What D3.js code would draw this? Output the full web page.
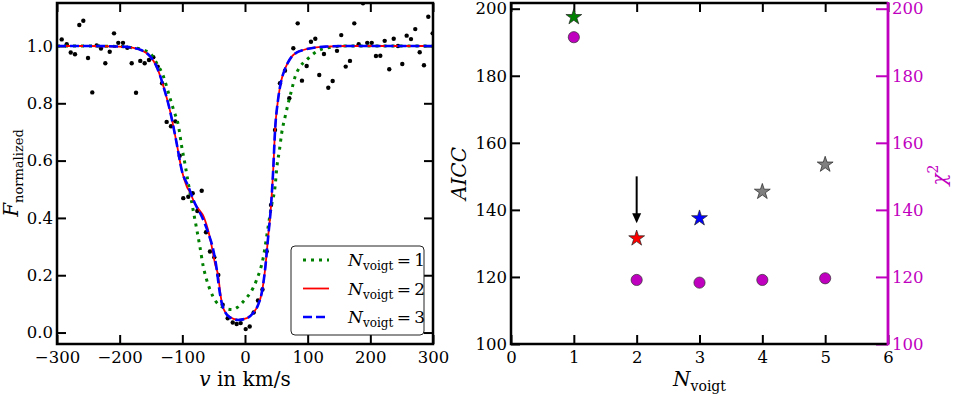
<!DOCTYPE html>
<html>
<head>
<meta charset="utf-8">
<script src="https://cdn.jsdelivr.net/npm/d3@7"></script>
<style>
  html, body { margin: 0; padding: 0; background: #fff; }
  svg { display: block; font-family: "DejaVu Serif", serif; }
  svg text { font-family: "DejaVu Serif", serif; }
</style>
</head>
<body>
<svg id="fig" width="954" height="395"></svg>
<script>
// ---- left panel: observed spectrum ----
const velObs = [-292.5, -284.5, -278.1, -271.3, -264.4, -258.0, -250.5, -243.7, -236.7, -229.8,
  -222.9, -215.9, -209.0, -202.2, -194.7, -187.8, -180.8, -173.9, -167.1, -160.1,
  -153.2, -146.3, -139.3, -132.3, -125.0, -118.1, -111.2, -104.2, -98.5, -90.5,
  -83.5, -76.1, -69.1, -62.2, -55.9, -49.0, -42.6, -35.6, -27.6, -19.6,
  -13.3, -6.9, 1.1, 7.5, 13.9, 20.7, 27.9, 34.6, 41.5, 47.9,
  55.8, 63.8, 70.7, 77.1, 84.1, 90.9, 98.4, 105.3, 112.2, 118.5,
  126.0, 132.9, 139.9, 146.8, 153.6, 160.7, 167.5, 174.4, 181.4, 188.3,
  195.1, 202.2, 209.0, 215.9, 222.9, 230.2, 237.3, 244.1, 251.0, 258.0,
  264.9, 271.7, 278.8, 285.6, 292.5, 299.5];
const fluxObs = [1.023, 1.006, 0.977, 0.971, 1.073, 1.088, 0.958, 0.838, 1.002, 0.991,
  0.940, 0.980, 1.044, 1.011, 1.011, 0.994, 0.940, 0.837, 0.948, 0.940,
  0.951, 0.961, 0.928, 0.870, 0.735, 0.720, 0.737, 0.617, 0.469, 0.474,
  0.486, 0.424, 0.495, 0.350, 0.283, 0.263, 0.201, 0.097, 0.050, 0.035,
  0.030, 0.033, 0.012, 0.021, 0.070, 0.112, 0.150, 0.283, 0.445, 0.707,
  0.870, 0.914, 0.818, 0.992, 1.079, 0.879, 0.930, 1.015, 1.025, 0.899,
  0.972, 0.854, 0.878, 0.983, 1.038, 0.928, 0.948, 1.079, 1.006, 1.149,
  1.011, 1.011, 0.965, 0.966, 1.018, 0.919, 1.025, 1.000, 0.937, 1.036,
  1.024, 1.059, 0.978, 0.933, 1.102, 1.044];

// fitted profiles
const fit1Vel = [-300, -250, -200, -180, -162, -149, -141, -130, -122, -114, -106, -101, -96, -90.5,
  -83, -77, -72, -67, -62, -55, -47, -37, -28, -20, -12, -5, 2, 8, 18.6, 29, 37, 42, 48, 51, 55,
  58.5, 64, 69, 74.5, 80, 88, 98, 114, 135, 160, 200, 300];
const fit1Flux = [1, 1, 0.998, 0.994, 0.986, 0.969, 0.94, 0.893, 0.835, 0.777, 0.719, 0.649, 0.591, 0.521,
  0.43, 0.36, 0.30, 0.235, 0.19, 0.145, 0.11, 0.09, 0.082, 0.08, 0.088, 0.103, 0.12, 0.137, 0.184, 0.26, 0.37, 0.44, 0.51, 0.58, 0.637,
  0.695, 0.753, 0.80, 0.847, 0.893, 0.928, 0.951, 0.98, 0.995, 1, 1, 1];

const fit2Vel = [-300, -250, -200, -180, -165, -151, -141, -130, -120, -109, -101, -93, -88, -80,
  -72, -66, -62, -58, -53, -48, -42.6, -40, -37, -32, -24, -11, 3, 13, 21, 26.6, 32, 37, 41, 45,
  48, 52.6, 58, 63, 68, 74.5, 83, 93, 110, 130, 160, 200, 300];
const fit2Flux = [1, 1, 0.998, 0.994, 0.985, 0.963, 0.928, 0.858, 0.777, 0.66, 0.567, 0.51, 0.49, 0.45,
  0.425, 0.405, 0.38, 0.35, 0.30, 0.242, 0.195, 0.149, 0.102, 0.073, 0.054, 0.044, 0.05, 0.068, 0.097, 0.137, 0.219, 0.335, 0.428, 0.567,
  0.707, 0.81, 0.88, 0.915, 0.94, 0.963, 0.978, 0.986, 0.994, 0.998, 1, 1, 1];

const fit3Vel = [-300, -250, -200, -180, -165, -151, -141, -130, -120, -109, -101, -90.5, -80, -69,
  -58.6, -50.6, -45, -41, -37, -32, -24, -11, 3, 13, 21, 26.6, 32, 37, 41, 45,
  48, 52.6, 58, 63, 68, 74.5, 83, 93, 110, 130, 160, 200, 300];
const fit3Flux = [1, 1, 0.998, 0.994, 0.985, 0.963, 0.928, 0.858, 0.777, 0.66, 0.567, 0.51, 0.451, 0.405,
  0.347, 0.288, 0.219, 0.15, 0.102, 0.072, 0.053, 0.044, 0.05, 0.068, 0.097, 0.137, 0.219, 0.335, 0.428, 0.567,
  0.707, 0.81, 0.88, 0.915, 0.94, 0.963, 0.978, 0.986, 0.994, 0.998, 1, 1, 1];

const legendLabels = ["1", "2", "3"];
const velTicks = [-300, -200, -100, 0, 100, 200, 300];
const fluxTicks = [0.0, 0.2, 0.4, 0.6, 0.8, 1.0];

// ---- right panel: model comparison ----
const nVoigt = [1, 2, 3, 4, 5];
const aicc = [197.5, 131.5, 137.5, 145.4, 153.5];
const chi2 = [191.5, 119.1, 118.3, 119.1, 119.6];
const nTicks = [0, 1, 2, 3, 4, 5, 6];
const aiccTicks = [100, 120, 140, 160, 180, 200];
const bestN = 2;
const arrowFrom = 150, arrowTo = 136;

const starColors = ["#008000", "#ff0000", "#0000ff", "#808080", "#808080"];
const magenta = "#bf00bf";

const svg = d3.select("#fig");
const serif = "'DejaVu Serif', serif";
const tickFont = "16.5px";

// ================= left panel =================
const xL = d3.scaleLinear().domain([-300, 300]).range([57, 433]);
const yL = d3.scaleLinear().domain([-0.04, 1.15]).range([344, 3]);

svg.append("clipPath").attr("id", "clipL")
  .append("rect").attr("x", 57).attr("y", 3).attr("width", 376).attr("height", 341);

const gL = svg.append("g");

function styleAxis(sel, color) {
  sel.attr("font-family", serif);
  sel.select(".domain").remove();
  sel.selectAll(".tick line").attr("stroke", color).attr("stroke-width", 2);
  sel.selectAll(".tick text").attr("fill", color)
    .style("font-family", serif).style("font-size", tickFont);
}

gL.append("g").attr("transform", "translate(0,344)")
  .call(d3.axisBottom(xL).tickValues(velTicks).tickSizeInner(-9).tickSizeOuter(0).tickPadding(7))
  .call(styleAxis, "#000");
gL.append("g").attr("transform", "translate(0,3)")
  .call(d3.axisTop(xL).tickValues(velTicks).tickSizeInner(-9).tickSizeOuter(0).tickFormat(""))
  .call(styleAxis, "#000");
gL.append("g").attr("transform", "translate(57,0)")
  .call(d3.axisLeft(yL).tickValues(fluxTicks).tickSizeInner(-9).tickSizeOuter(0).tickPadding(4).tickFormat(d3.format(".1f")))
  .call(styleAxis, "#000");
gL.append("g").attr("transform", "translate(433,0)")
  .call(d3.axisRight(yL).tickValues(fluxTicks).tickSizeInner(-9).tickSizeOuter(0).tickFormat(""))
  .call(styleAxis, "#000");

const plotL = gL.append("g").attr("clip-path", "url(#clipL)");

plotL.selectAll("circle.obs")
  .data(d3.zip(velObs, fluxObs))
  .join("circle")
  .attr("class", "obs")
  .attr("cx", d => xL(d[0]))
  .attr("cy", d => yL(d[1]))
  .attr("r", 2.2)
  .attr("fill", "#000");

const lineL = d3.line().x(d => xL(d[0])).y(d => yL(d[1])).curve(d3.curveMonotoneX);

const fits = [
  { data: d3.zip(fit1Vel, fit1Flux), color: "#008000", width: 3, dash: "3,5" },
  { data: d3.zip(fit2Vel, fit2Flux), color: "#ff0000", width: 1.8, dash: null },
  { data: d3.zip(fit3Vel, fit3Flux), color: "#0000ff", width: 2.6, dash: "9,4" }
];

fits.forEach(f => {
  plotL.append("path")
    .attr("d", lineL(f.data))
    .attr("fill", "none")
    .attr("stroke", f.color)
    .attr("stroke-width", f.width)
    .attr("stroke-dasharray", f.dash);
});

gL.append("rect").attr("x", 57).attr("y", 3).attr("width", 376).attr("height", 341)
  .attr("fill", "none").attr("stroke", "#000").attr("stroke-width", 2.5);

// legend
const leg = gL.append("g");
leg.append("rect").attr("x", 291).attr("y", 246).attr("width", 133).attr("height", 89)
  .attr("rx", 4).attr("fill", "#fff").attr("stroke", "#222").attr("stroke-width", 1);
fits.forEach((f, i) => {
  const yy = 260 + i * 28.5;
  leg.append("line").attr("x1", 303).attr("x2", 329).attr("y1", yy).attr("y2", yy)
    .attr("stroke", f.color).attr("stroke-width", f.width).attr("stroke-dasharray", f.dash);
  const t = leg.append("text").attr("x", 348).attr("y", yy + 6)
    .style("font-family", serif).style("font-size", "17px");
  t.append("tspan").style("font-style", "italic").text("N");
  t.append("tspan").attr("dy", 4).style("font-size", "12px").text("voigt");
  t.append("tspan").attr("dy", -4).text("\u2009=\u2009" + legendLabels[i]);
});

// axis labels
const xlabL = svg.append("text").attr("x", 245).attr("y", 386).attr("text-anchor", "middle")
  .style("font-family", serif).style("font-size", "20px");
xlabL.append("tspan").style("font-style", "italic").text("v");
xlabL.append("tspan").text(" in km/s");

const ylabL = svg.append("text").attr("transform", "translate(18,173) rotate(-90)")
  .attr("text-anchor", "middle").style("font-family", serif).style("font-size", "20px");
ylabL.append("tspan").style("font-style", "italic").text("F");
ylabL.append("tspan").attr("dy", 5).style("font-size", "13px").text("normalized");

// ================= right panel =================
const xR = d3.scaleLinear().domain([0, 6]).range([511, 888]);
const yR = d3.scaleLinear().domain([100, 201.7]).range([344, 3]);

const gR = svg.append("g");

gR.append("g").attr("transform", "translate(0,344)")
  .call(d3.axisBottom(xR).tickValues(nTicks).tickSizeInner(-9).tickSizeOuter(0).tickPadding(7).tickFormat(d3.format("d")))
  .call(styleAxis, "#000");
gR.append("g").attr("transform", "translate(0,3)")
  .call(d3.axisTop(xR).tickValues(nTicks).tickSizeInner(-9).tickSizeOuter(0).tickFormat(""))
  .call(styleAxis, "#000");
gR.append("g").attr("transform", "translate(511,0)")
  .call(d3.axisLeft(yR).tickValues(aiccTicks).tickSizeInner(-9).tickSizeOuter(0).tickPadding(4).tickFormat(d3.format("d")))
  .call(styleAxis, "#000");
gR.append("g").attr("transform", "translate(888,0)")
  .call(d3.axisRight(yR).tickValues(aiccTicks).tickSizeInner(-12).tickSizeOuter(0).tickPadding(4).tickFormat(d3.format("d")))
  .call(styleAxis, magenta);

// frame: black on three sides, magenta on the right
gR.append("path")
  .attr("d", "M888,344H511V3H888")
  .attr("fill", "none").attr("stroke", "#000").attr("stroke-width", 2.5);
gR.append("line").attr("x1", 888).attr("x2", 888).attr("y1", 2).attr("y2", 345.2)
  .attr("stroke", magenta).attr("stroke-width", 2.8);

// chi^2 circles
gR.selectAll("circle.chi")
  .data(d3.zip(nVoigt, chi2))
  .join("circle")
  .attr("class", "chi")
  .attr("cx", d => xR(d[0]))
  .attr("cy", d => yR(d[1]))
  .attr("r", 5.6)
  .attr("fill", magenta)
  .attr("stroke", "#333")
  .attr("stroke-width", 0.7);

// AICC stars
const star = d3.symbol().type(d3.symbolStar).size(78);
gR.selectAll("path.aicc")
  .data(d3.zip(nVoigt, aicc))
  .join("path")
  .attr("class", "aicc")
  .attr("transform", d => `translate(${xR(d[0])},${yR(d[1])})`)
  .attr("d", star)
  .attr("fill", (d, i) => starColors[i])
  .attr("stroke", "#222")
  .attr("stroke-width", 0.7);

// arrow pointing at best model
const ax = xR(bestN), ay0 = yR(arrowFrom), ay1 = yR(arrowTo);
gR.append("line").attr("x1", ax).attr("x2", ax).attr("y1", ay0).attr("y2", ay1 - 9)
  .attr("stroke", "#000").attr("stroke-width", 2);
gR.append("path")
  .attr("d", `M${ax - 4.5},${ay1 - 10}L${ax + 4.5},${ay1 - 10}L${ax},${ay1}Z`)
  .attr("fill", "#000");

// axis labels
const xlabR = svg.append("text").attr("x", 699.5).attr("y", 386).attr("text-anchor", "middle")
  .style("font-family", serif).style("font-size", "20px");
xlabR.append("tspan").style("font-style", "italic").text("N");
xlabR.append("tspan").attr("dy", 5).style("font-size", "14px").text("voigt");

svg.append("text").attr("transform", "translate(466,173.5) rotate(-90)")
  .attr("text-anchor", "middle").style("font-family", serif)
  .style("font-size", "20px").style("font-style", "italic")
  .text("AICC");

const ylabR = svg.append("text").attr("transform", "translate(946,175) rotate(-90)")
  .attr("text-anchor", "middle").attr("fill", magenta)
  .style("font-family", serif).style("font-size", "20px");
ylabR.append("tspan").style("font-style", "italic").text("\u03c7");
ylabR.append("tspan").attr("dy", -8).style("font-size", "14px").text("2");
</script>
</body>
</html>
